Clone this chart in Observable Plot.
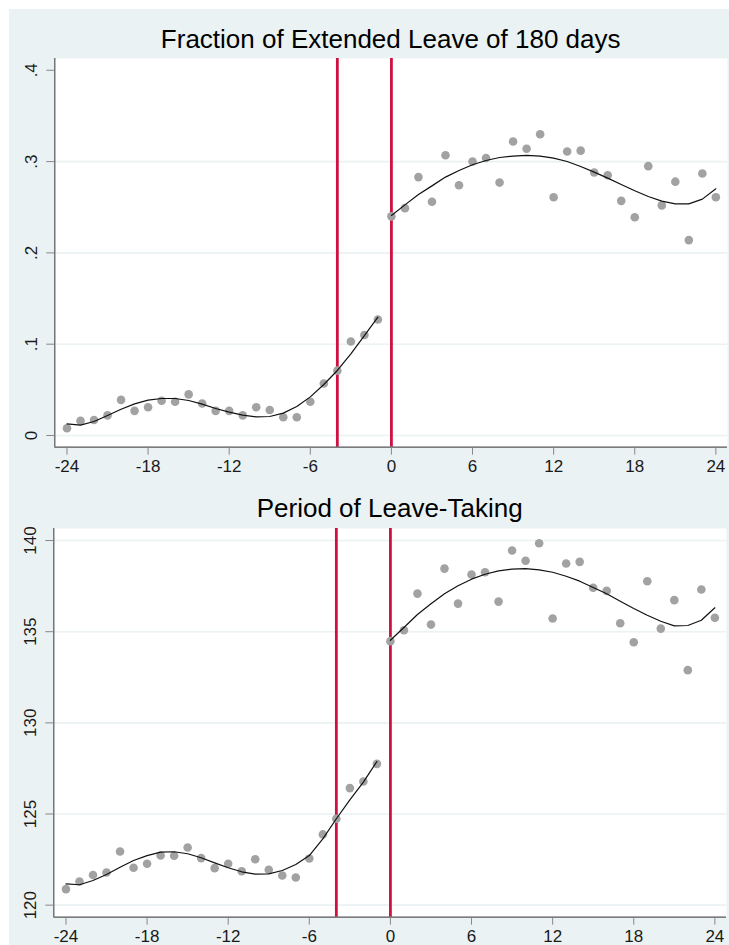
<!DOCTYPE html>
<html>
<head>
<meta charset="utf-8">
<script src="https://cdn.jsdelivr.net/npm/d3@7"></script>
<script src="https://cdn.jsdelivr.net/npm/@observablehq/plot@0.6"></script>
<style>
  html, body { margin: 0; padding: 0; background: #ffffff; }
  body { width: 729px; height: 945px; position: relative; overflow: hidden;
         font-family: "Liberation Sans", Arial, sans-serif; }
  #graph { position: absolute; left: 9px; top: 9px; width: 720px; height: 936px; background: #EAF2F3; }
  .title { position: absolute; font-size: 26px; line-height: 26px; color: #000; white-space: nowrap;
           transform: translateX(-50%); }
  .panel { position: absolute; left: 0; }
</style>
</head>
<body>
<div id="graph"></div>
<div class="title" id="title1" style="left:390.7px; top:25.7px;"></div>
<div class="panel" id="panel1" style="top:58px;"></div>
<div class="title" id="title2" style="left:389.7px; top:494.7px;"></div>
<div class="panel" id="panel2" style="top:528px;"></div>
<script>
// Months relative to the reform (cohorts before and after)
const monthsBefore = [-24, -23, -22, -21, -20, -19, -18, -17, -16, -15, -14, -13,
                      -12, -11, -10, -9, -8, -7, -6, -5, -4, -3, -2, -1];
const monthsAfter = [0, 1, 2, 3, 4, 5, 6, 7, 8, 9, 10, 11, 12,
                     13, 14, 15, 16, 17, 18, 19, 20, 21, 22, 23, 24];

// Fraction taking an extended leave of 180 days: monthly means and fitted values
const extendedBefore = [0.008, 0.016, 0.017, 0.022, 0.039, 0.027, 0.031, 0.038, 0.037, 0.045, 0.035, 0.027,
                        0.027, 0.022, 0.031, 0.028, 0.020, 0.020, 0.037, 0.057, 0.071, 0.103, 0.110, 0.127];
const extendedAfter = [0.240, 0.249, 0.283, 0.256, 0.307, 0.274, 0.300, 0.304, 0.277, 0.322, 0.314, 0.330, 0.261,
                       0.311, 0.312, 0.288, 0.285, 0.257, 0.239, 0.295, 0.252, 0.278, 0.214, 0.287, 0.261];
const extendedFitBefore = [0.0128, 0.0113, 0.0153, 0.0219, 0.0288, 0.0347, 0.0387, 0.0405, 0.0405, 0.0383, 0.0343, 0.0296,
                           0.0256, 0.0223, 0.0204, 0.0208, 0.0245, 0.0318, 0.0423, 0.0559, 0.0712, 0.0894, 0.1095, 0.1296];
const extendedFitAfter = [0.2410, 0.2526, 0.2640, 0.2734, 0.2830, 0.2903, 0.2965, 0.3012, 0.3045, 0.3060, 0.3067, 0.3060, 0.3038,
                          0.3001, 0.2946, 0.2884, 0.2819, 0.2749, 0.2680, 0.2618, 0.2567, 0.2537, 0.2537, 0.2589, 0.2702];

// Period of leave-taking (days): monthly means and fitted values
const periodBefore = [120.88, 121.30, 121.65, 121.79, 122.94, 122.05, 122.27, 122.72, 122.71, 123.16, 122.58, 122.03,
                      122.27, 121.86, 122.52, 121.94, 121.63, 121.52, 122.56, 123.88, 124.74, 126.42, 126.78, 127.75];
const periodAfter = [134.48, 135.08, 137.09, 135.39, 138.46, 136.54, 138.14, 138.26, 136.65, 139.45, 138.89, 139.85, 135.72,
                     138.74, 138.83, 137.41, 137.24, 135.46, 134.42, 137.77, 135.17, 136.73, 132.89, 137.31, 135.76];
const periodFitBefore = [121.17, 121.12, 121.35, 121.68, 122.08, 122.45, 122.72, 122.91, 122.93, 122.82, 122.60, 122.32,
                         122.05, 121.83, 121.70, 121.72, 121.90, 122.23, 122.72, 123.64, 124.74, 125.78, 126.75, 127.88];
const periodFitAfter = [134.53, 135.23, 135.94, 136.53, 137.08, 137.52, 137.88, 138.15, 138.34, 138.43, 138.46, 138.39, 138.26,
                        138.04, 137.77, 137.42, 137.08, 136.67, 136.27, 135.90, 135.57, 135.32, 135.34, 135.63, 136.31];

// Cutoff lines
const cutoffs = [-4, 0];

// Axis ticks and labels
const xTicks = [-24, -18, -12, -6, 0, 6, 12, 18, 24];
const xTickLabels = ["-24", "-18", "-12", "-6", "0", "6", "12", "18", "24"];
const extendedTicks = [0, 0.1, 0.2, 0.3, 0.4];
const extendedTickLabels = ["0", ".1", ".2", ".3", ".4"];
const extendedGrid = [0, 0.1, 0.2, 0.3];
const periodTicks = [120, 125, 130, 135, 140];
const periodTickLabels = ["120", "125", "130", "135", "140"];

const titles = ["Fraction of Extended Leave of 180 days", "Period of Leave-Taking"];

const COLORS = {
  background: "#EAF2F3",
  grid: "#EAF2F3",
  cutoff: "#CE1141",
  dot: "#A2A2A2",
  fit: "#111111",
  axis: "#555555",
  tick: "#888888",
  text: "#1a1a1a"
};

function rows(months, values) {
  return months.map((m, i) => ({month: m, value: values[i]}));
}

function panel({before, after, fitBefore, fitAfter, yDomain, yTicks, yLabels, grid,
                marginLeft, marginRight, height, marginBottom}) {
  const xDomain = [-24.9, 24.86];
  const yLabelMap = new Map(yTicks.map((t, i) => [t, yLabels[i]]));
  const xLabelMap = new Map(xTicks.map((t, i) => [t, xTickLabels[i]]));
  const pts = rows(monthsBefore, before).concat(rows(monthsAfter, after));
  return Plot.plot({
    width: 729,
    height,
    marginLeft,
    marginRight,
    marginTop: 0,
    marginBottom,
    style: {background: "transparent", overflow: "visible", fontFamily: "'Liberation Sans', Arial, sans-serif",
            fontSize: "17px", color: COLORS.text},
    x: {domain: xDomain, label: null},
    y: {domain: yDomain, label: null},
    marks: [
      Plot.frame({fill: "white", stroke: "none"}),
      Plot.gridY(grid, {stroke: COLORS.grid, strokeOpacity: 1, strokeWidth: 1.6}),
      Plot.ruleX(cutoffs, {stroke: COLORS.cutoff, strokeWidth: 2.8}),
      Plot.dot(pts, {x: "month", y: "value", r: 4.3, fill: COLORS.dot, stroke: "none"}),
      Plot.line(rows(monthsBefore, fitBefore), {x: "month", y: "value", stroke: COLORS.fit, strokeWidth: 1.2}),
      Plot.line(rows(monthsAfter, fitAfter), {x: "month", y: "value", stroke: COLORS.fit, strokeWidth: 1.2}),
      // axis lines
      Plot.ruleX([xDomain[0]], {stroke: COLORS.axis, strokeWidth: 1.2}),
      Plot.ruleY([yDomain[0]], {stroke: COLORS.axis, strokeWidth: 1.2}),
      // y axis: ticks, then rotated labels
      Plot.axisY(yTicks, {tickSize: 8, stroke: COLORS.tick, fill: "none", label: null}),
      Plot.axisY(yTicks, {tickSize: 8, tickPadding: 9.5, tickRotate: -90, stroke: "none", fill: COLORS.text,
                          fontSize: 17, label: null, tickFormat: d => yLabelMap.get(d)}),
      // x axis
      Plot.axisX(xTicks, {tickSize: 8, stroke: COLORS.tick, fill: "none", label: null}),
      Plot.axisX(xTicks, {tickSize: 8, tickPadding: 5, stroke: "none", fill: COLORS.text,
                          fontSize: 17, label: null, tickFormat: d => xLabelMap.get(d)})
    ]
  });
}

document.getElementById("title1").textContent = titles[0];
document.getElementById("title2").textContent = titles[1];

document.getElementById("panel1").appendChild(panel({
  before: extendedBefore, after: extendedAfter,
  fitBefore: extendedFitBefore, fitAfter: extendedFitAfter,
  yDomain: [-0.0128, 0.4129], yTicks: extendedTicks, yLabels: extendedTickLabels, grid: extendedGrid,
  marginLeft: 54.3, marginRight: 2, height: 420.7, marginBottom: 32
}));

document.getElementById("panel2").appendChild(panel({
  before: periodBefore, after: periodAfter,
  fitBefore: periodFitBefore, fitAfter: periodFitAfter,
  yDomain: [119.34, 140.66], yTicks: periodTicks, yLabels: periodTickLabels, grid: periodTicks,
  marginLeft: 53.3, marginRight: 3, height: 417.7, marginBottom: 29
}));
</script>
</body>
</html>
